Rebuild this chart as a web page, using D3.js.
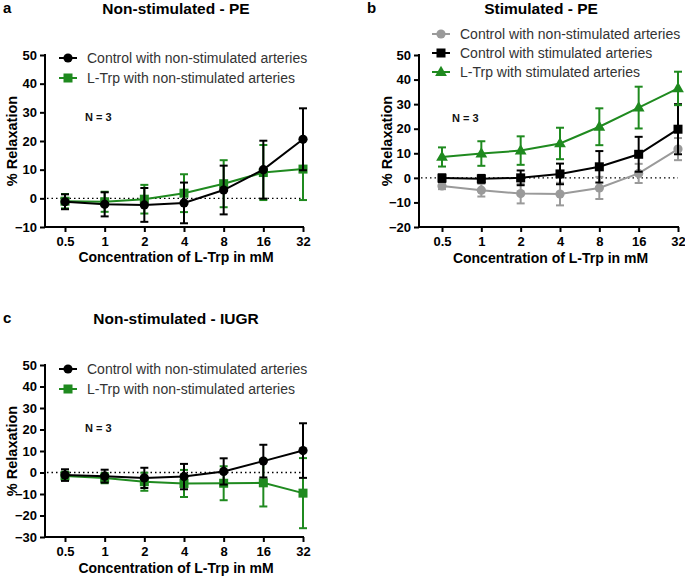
<!DOCTYPE html>
<html><head><meta charset="utf-8">
<script src="https://cdn.jsdelivr.net/npm/d3@7"></script>
<style>body{margin:0;background:#fff}svg{display:block}text{font-family:"Liberation Sans",Arial,sans-serif}</style>
</head><body>
<script>
const concentrations = ["0.5","1","2","4","8","16","32"];

// Panel a: Non-stimulated - PE
const aControlMean = [-1.2,-2.1,-2.3,-1.6,2.9,10.0,20.6];
const aControlErr  = [2.6,4.2,5.9,7.1,8.5,10.1,10.8];
const aTrpMean     = [-1.0,-1.2,-0.3,1.8,5.1,9.0,10.2];
const aTrpErr      = [2.5,3.5,5.0,6.6,8.2,9.6,10.8];

// Panel b: Stimulated - PE
const bCtrlNonStimMean = [-3.3,-5.0,-6.4,-6.6,-4.1,1.8,11.7];
const bCtrlNonStimErr  = [1.3,2.6,4.0,4.6,4.5,3.9,4.5];
const bCtrlStimMean    = [-0.1,-0.4,0.0,1.6,4.5,9.6,19.8];
const bCtrlStimErr     = [1.5,1.6,3.0,4.2,6.4,7.1,10.2];
const bTrpStimMean     = [8.5,9.9,11.1,14.0,20.8,28.6,36.4];
const bTrpStimErr      = [3.9,5.0,5.8,6.4,7.5,8.5,6.8];

// Panel c: Non-stimulated - IUGR
const cControlMean = [-1.2,-1.7,-2.5,-1.9,0.5,5.3,10.2];
const cControlErr  = [2.7,3.0,4.7,5.9,6.1,7.6,12.7];
const cTrpMean     = [-1.6,-2.6,-4.3,-5.1,-5.0,-4.8,-9.6];
const cTrpErr      = [2.0,2.4,4.2,6.3,7.9,11.0,16.3];

const yTicksA = [-10,0,10,20,30,40,50];
const yTicksB = [-20,-10,0,10,20,30,40,50];
const yTicksC = [-30,-20,-10,0,10,20,30,40,50];

const GREEN = "#1f8a1f", BLACK = "#000", GREY = "#9a9a9a";

const svg = d3.select("body").append("svg").attr("width",685).attr("height",578);

const panels = [
  {letter:"a", title:"Non-stimulated - PE", lx:3, tx:176, ty:14, ax:45, xr:[65,303], yd:[-10,50], yr:[227,55], ticks:yTicksA,
   ylx:12, xtY:262, nX:85, nY:121,
   legend:{mx:68, tx:87, ys:[58,78]},
   series:[
     {name:"L-Trp with non-stimulated arteries", mean:aTrpMean, err:aTrpErr, color:GREEN, shape:"square", leg:1},
     {name:"Control with non-stimulated arteries", mean:aControlMean, err:aControlErr, color:BLACK, shape:"circle", leg:0}
   ]},
  {letter:"b", title:"Stimulated - PE", lx:367, tx:541, ty:14, ax:419, xr:[442,678], yd:[-20,50], yr:[227,55], ticks:yTicksB,
   ylx:387, xtY:263, nX:452, nY:122,
   legend:{mx:441, tx:460, ys:[34,53,72]},
   series:[
     {name:"Control with non-stimulated arteries", mean:bCtrlNonStimMean, err:bCtrlNonStimErr, color:GREY, shape:"circle", leg:0},
     {name:"Control with stimulated arteries", mean:bCtrlStimMean, err:bCtrlStimErr, color:BLACK, shape:"square", leg:1},
     {name:"L-Trp with stimulated arteries", mean:bTrpStimMean, err:bTrpStimErr, color:GREEN, shape:"triangle", leg:2}
   ]},
  {letter:"c", title:"Non-stimulated - IUGR", lx:3, tx:176, ty:324, ax:45, xr:[65,303], yd:[-30,50], yr:[537,365], ticks:yTicksC,
   ylx:12, xtY:573, nX:85, nY:432,
   legend:{mx:68, tx:87, ys:[369,389]},
   series:[
     {name:"L-Trp with non-stimulated arteries", mean:cTrpMean, err:cTrpErr, color:GREEN, shape:"square", leg:1},
     {name:"Control with non-stimulated arteries", mean:cControlMean, err:cControlErr, color:BLACK, shape:"circle", leg:0}
   ]}
];

function marker(g, shape, color, cx, cy){
  if(shape==="circle") g.append("circle").attr("cx",cx).attr("cy",cy).attr("r",4.6).attr("fill",color);
  else if(shape==="square") g.append("rect").attr("x",cx-4.5).attr("y",cy-4.5).attr("width",9).attr("height",9).attr("fill",color);
  else g.append("path").attr("d",d3.symbol(d3.symbolTriangle,60)()).attr("transform",`translate(${cx},${cy+0.5})`).attr("fill",color);
}

panels.forEach(p=>{
  const g = svg.append("g");
  const x = d3.scalePoint().domain(concentrations).range(p.xr);
  const y = d3.scaleLinear().domain(p.yd).range(p.yr);

  g.append("text").attr("x",p.lx).attr("y",p.ty-1).attr("font-size",15).attr("font-weight","bold").text(p.letter);
  g.append("text").attr("x",p.tx).attr("y",p.ty).attr("text-anchor","middle").attr("font-size",15.5).attr("font-weight","bold").text(p.title);

  // y axis
  const ya = g.append("g").attr("transform",`translate(${p.ax},0)`)
    .call(d3.axisLeft(y).tickValues(p.ticks).tickSize(5).tickSizeOuter(0).tickPadding(3).tickFormat(d3.format("d")));
  ya.select(".domain").remove();
  ya.selectAll(".tick line").attr("stroke","#000").attr("stroke-width",2);
  ya.selectAll(".tick text").attr("font-size",13).attr("font-weight","bold").attr("fill","#000")
    .attr("font-family","'Liberation Sans',Arial,sans-serif");
  g.append("line").attr("x1",p.ax).attr("x2",p.ax).attr("y1",p.yr[1]-1).attr("y2",p.yr[0]+1).attr("stroke","#000").attr("stroke-width",2);

  // x axis
  const xa = g.append("g").attr("transform",`translate(0,${p.yr[0]})`)
    .call(d3.axisBottom(x).tickSize(5).tickSizeOuter(0).tickPadding(5));
  xa.select(".domain").remove();
  xa.selectAll(".tick line").attr("stroke","#000").attr("stroke-width",2);
  xa.selectAll(".tick text").attr("font-size",13).attr("font-weight","bold").attr("fill","#000")
    .attr("font-family","'Liberation Sans',Arial,sans-serif");
  g.append("line").attr("x1",p.ax-1).attr("x2",p.xr[1]+1).attr("y1",p.yr[0]).attr("y2",p.yr[0]).attr("stroke","#000").attr("stroke-width",2);

  // axis titles
  g.append("text").attr("transform",`translate(${p.ylx+5},${(p.yr[0]+p.yr[1])/2}) rotate(-90)`).attr("text-anchor","middle")
    .attr("font-size",14.5).attr("font-weight","bold").text("% Relaxation");
  g.append("text").attr("x",(p.ax+p.xr[1])/2+2).attr("y",p.xtY).attr("text-anchor","middle")
    .attr("font-size",14).attr("font-weight","bold").text("Concentration of L-Trp in mM");

  // zero dotted line
  g.append("line").attr("x1",p.ax+2).attr("x2",p.xr[1]).attr("y1",y(0)).attr("y2",y(0))
    .attr("stroke","#000").attr("stroke-width",1.3).attr("stroke-dasharray","1.5,3");

  g.append("text").attr("x",p.nX).attr("y",p.nY).attr("font-size",11).attr("font-weight","bold").attr("fill","#111").text("N = 3");

  // series
  p.series.forEach(s=>{
    const sg = g.append("g");
    concentrations.forEach((c,i)=>{
      const cx = x(c), top = y(s.mean[i]+s.err[i]), bot = y(s.mean[i]-s.err[i]);
      sg.append("line").attr("x1",cx).attr("x2",cx).attr("y1",top).attr("y2",bot).attr("stroke",s.color).attr("stroke-width",2);
      sg.append("line").attr("x1",cx-4).attr("x2",cx+4).attr("y1",top).attr("y2",top).attr("stroke",s.color).attr("stroke-width",2);
      sg.append("line").attr("x1",cx-4).attr("x2",cx+4).attr("y1",bot).attr("y2",bot).attr("stroke",s.color).attr("stroke-width",2);
    });
    sg.append("path").datum(s.mean).attr("fill","none").attr("stroke",s.color).attr("stroke-width",2)
      .attr("d",d3.line().x((d,i)=>x(concentrations[i])).y(d=>y(d)));
    s.mean.forEach((d,i)=>marker(sg,s.shape,s.color,x(concentrations[i]),y(d)));

    // legend
    const ly = p.legend.ys[s.leg];
    g.append("line").attr("x1",p.legend.mx-9).attr("x2",p.legend.mx+9).attr("y1",ly).attr("y2",ly).attr("stroke",s.color).attr("stroke-width",2);
    marker(g,s.shape,s.color,p.legend.mx,ly);
    g.append("text").attr("x",p.legend.tx).attr("y",ly+5).attr("font-size",14).attr("fill","#333").text(s.name);
  });
});
</script>
</body></html>
